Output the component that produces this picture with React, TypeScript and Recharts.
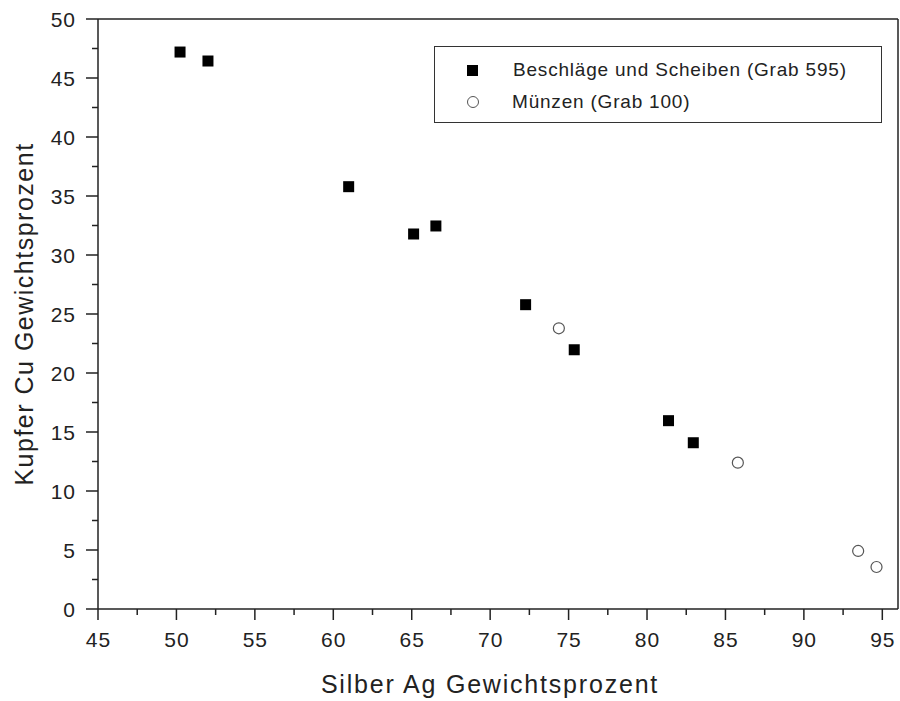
import React from 'react';
import {
  ScatterChart,
  Scatter,
  XAxis,
  YAxis,
  Legend,
  ReferenceLine
} from 'recharts';

// Beschläge und Scheiben (Grab 595)
const beschlaegeAg = [50.23, 52.01, 60.98, 65.12, 66.54, 72.26, 75.36, 81.37, 82.95];
const beschlaegeCu = [47.2, 46.44, 35.79, 31.78, 32.46, 25.79, 21.97, 15.96, 14.09];

// Münzen (Grab 100)
const muenzenAg = [74.38, 85.79, 93.46, 94.63];
const muenzenCu = [23.79, 12.4, 4.92, 3.56];

const xTicks = [45, 47.5, 50, 52.5, 55, 57.5, 60, 62.5, 65, 67.5, 70, 72.5, 75, 77.5, 80, 82.5, 85, 87.5, 90, 92.5, 95];
const yTicks = [0, 2.5, 5, 7.5, 10, 12.5, 15, 17.5, 20, 22.5, 25, 27.5, 30, 32.5, 35, 37.5, 40, 42.5, 45, 47.5, 50];

const seriesNames = ['Beschläge und Scheiben (Grab 595)', 'Münzen (Grab 100)'];

const beschlaege = beschlaegeAg.map((ag, i) => ({ ag, cu: beschlaegeCu[i] }));
const muenzen = muenzenAg.map((ag, i) => ({ ag, cu: muenzenCu[i] }));

const INK = '#222';
const FONT = '"Liberation Sans", Arial, sans-serif';

function XTick({ x, y, payload }: any) {
  const major = payload.value % 5 === 0;
  return (
    <g>
      <line x1={x} x2={x} y1={y} y2={y + (major ? 11 : 6)} stroke={INK} strokeWidth={1.5} />
      {major && (
        <text x={x + 0.5} y={y + 38} textAnchor="middle" fontSize={21} letterSpacing={1} fill={INK} fontFamily={FONT}>
          {payload.value}
        </text>
      )}
    </g>
  );
}

function YTick({ x, y, payload }: any) {
  const major = payload.value % 5 === 0;
  return (
    <g>
      <line x1={x} x2={x - (major ? 12 : 6)} y1={y} y2={y} stroke={INK} strokeWidth={1.5} />
      {major && (
        <text x={x - 22} y={y + 7.5} textAnchor="end" fontSize={21} letterSpacing={1} fill={INK} fontFamily={FONT}>
          {payload.value}
        </text>
      )}
    </g>
  );
}

function SquareDot({ cx, cy }: any) {
  return <rect x={cx - 5.5} y={cy - 5.5} width={11} height={11} fill="#000" />;
}

function CircleDot({ cx, cy }: any) {
  return <circle cx={cx} cy={cy} r={5.5} fill="#fff" stroke="#555" strokeWidth={1.2} />;
}

function LegendBox() {
  const row = { position: 'absolute' as const, left: 0, display: 'flex', alignItems: 'center' };
  return (
    <div
      style={{
        position: 'relative',
        width: 448,
        height: 77,
        boxSizing: 'border-box',
        border: '1.5px solid #333',
        background: '#fff',
        fontFamily: FONT,
        fontSize: 19,
        letterSpacing: 0.8,
        color: INK
      }}
    >
      <div style={{ ...row, top: 12 }}>
        <div style={{ width: 11, height: 11, background: '#000', marginLeft: 32 }} />
        <span style={{ marginLeft: 35 }}>{seriesNames[0]}</span>
      </div>
      <div style={{ ...row, top: 44 }}>
        <div
          style={{
            width: 10,
            height: 10,
            borderRadius: '50%',
            border: '1.2px solid #555',
            marginLeft: 32
          }}
        />
        <span style={{ marginLeft: 33 }}>{seriesNames[1]}</span>
      </div>
    </div>
  );
}

export default function App() {
  return (
    <div style={{ position: 'absolute', left: 0, top: 0, background: '#fff' }}>
      <ScatterChart width={900} height={701} margin={{ top: 19, right: 2, left: 0, bottom: 0 }}>
        <XAxis
          type="number"
          dataKey="ag"
          domain={[45, 96]}
          ticks={xTicks}
          interval={0}
          height={92}
          tickSize={0}
          tickMargin={0}
          tickLine={false}
          tick={<XTick />}
          axisLine={{ stroke: INK, strokeWidth: 1.5 }}
          label={({ viewBox }: any) => (
            <text
              x={viewBox.x + viewBox.width / 2 - 8}
              y={693}
              textAnchor="middle"
              fontSize={25}
              letterSpacing={1.8}
              fill={INK}
              fontFamily={FONT}
            >
              Silber Ag Gewichtsprozent
            </text>
          )}
        />
        <YAxis
          type="number"
          dataKey="cu"
          domain={[0, 50]}
          ticks={yTicks}
          interval={0}
          width={98}
          tickSize={0}
          tickMargin={0}
          tickLine={false}
          tick={<YTick />}
          axisLine={{ stroke: INK, strokeWidth: 1.5 }}
          label={({ viewBox }: any) => (
            <text
              x={33}
              y={viewBox.y + viewBox.height / 2}
              transform={`rotate(-90 33 ${viewBox.y + viewBox.height / 2})`}
              textAnchor="middle"
              fontSize={25}
              letterSpacing={1.5}
              fill={INK}
              fontFamily={FONT}
            >
              Kupfer Cu Gewichtsprozent
            </text>
          )}
        />
        <ReferenceLine y={50} stroke={INK} strokeWidth={1.5} />
        <ReferenceLine x={96} stroke={INK} strokeWidth={1.5} />
        <Legend
          layout="horizontal"
          verticalAlign="middle"
          align="center"
          wrapperStyle={{ left: 434, top: 46, width: 448, height: 77 }}
          content={() => <LegendBox />}
        />
        <Scatter
          name={seriesNames[0]}
          data={beschlaege}
          shape={<SquareDot />}
          isAnimationActive={false}
        />
        <Scatter
          name={seriesNames[1]}
          data={muenzen}
          shape={<CircleDot />}
          isAnimationActive={false}
        />
      </ScatterChart>
    </div>
  );
}
